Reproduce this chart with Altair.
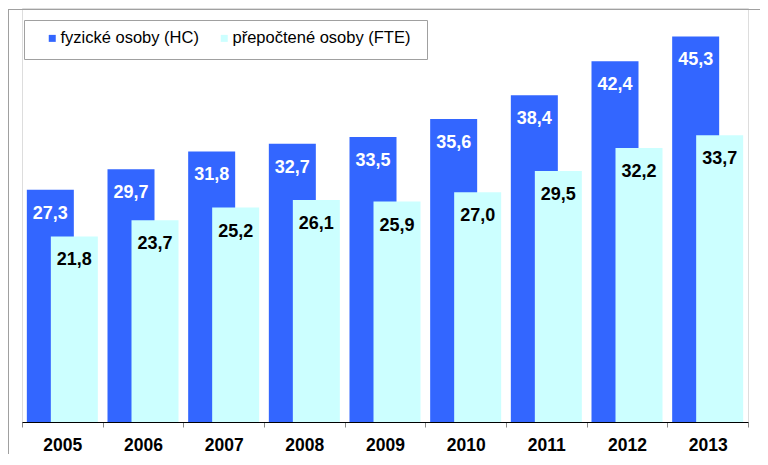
import altair as alt
import pandas as pd

years = ["2005", "2006", "2007", "2008", "2009", "2010", "2011", "2012", "2013"]
hc = [27.3, 29.7, 31.8, 32.7, 33.5, 35.6, 38.4, 42.4, 45.3]
fte = [21.8, 23.7, 25.2, 26.1, 25.9, 27.0, 29.5, 32.2, 33.7]
series = ["fyzické osoby (HC)", "přepočtené osoby (FTE)"]
colors = ["#3366FF", "#CCFFFF"]

rows = []
for y, a, b in zip(years, hc, fte):
    rows.append({"year": y, "series": series[0], "value": a, "label": f"{a:.1f}".replace(".", ",")})
    rows.append({"year": y, "series": series[1], "value": b, "label": f"{b:.1f}".replace(".", ",")})
df = pd.DataFrame(rows)

FONT = "Liberation Sans"
W, H = 726, 414
YMAX = H / 8.51

x = alt.X("year:N", title=None, sort=years,
          scale=alt.Scale(paddingInner=0, paddingOuter=0),
          axis=alt.Axis(labelAngle=0, labelFontSize=17.5, labelFontWeight="bold",
                        labelColor="black", labelFont=FONT, tickBand="extent",
                        tickSize=5, tickColor="#888888", domainColor="black",
                        labelBaseline="alphabetic", labelPadding=23))
y = alt.Y("value:Q", title=None, axis=None,
          scale=alt.Scale(domain=[0, YMAX], nice=False, zero=True))
color = alt.Color("series:N", scale=alt.Scale(domain=series, range=colors),
                  legend=alt.Legend(orient="none", legendX=22, legendY=22,
                                    direction="horizontal", title=None,
                                    symbolType="square", symbolSize=49,
                                    symbolStrokeWidth=0, labelFontSize=16.5,
                                    labelFont=FONT, labelColor="black",
                                    labelOffset=0, columnPadding=17,
                                    padding=0, labelLimit=400))

base = alt.Chart(df)

hc_bar = base.transform_filter(alt.datum.series == series[0]).mark_bar(
    width=47, xOffset=-12).encode(x=x, y=y, color=color)
fte_bar = base.transform_filter(alt.datum.series == series[1]).mark_bar(
    width=47, xOffset=12).encode(x=x, y=y, color=color)

hc_txt = base.transform_filter(alt.datum.series == series[0]).mark_text(
    font=FONT, fontSize=18, fontWeight="bold", color="white",
    baseline="alphabetic", dy=29, dx=-12).encode(x=x, y=y, text="label:N")
fte_txt = base.transform_filter(alt.datum.series == series[1]).mark_text(
    font=FONT, fontSize=18, fontWeight="bold", color="black",
    baseline="alphabetic", dy=29, dx=12).encode(x=x, y=y, text="label:N")

one = alt.Data(values=[{"a": 1}])
frame_left = alt.Chart(one).mark_rule(color="#a0a0a0", strokeWidth=1).encode(
    x=alt.value(-13.5), y=alt.value(1), y2=alt.value(500))
frame_top = alt.Chart(one).mark_rule(color="#a0a0a0", strokeWidth=1).encode(
    x=alt.value(-14), x2=alt.value(800), y=alt.value(1.5))
legend_box = alt.Chart(one).mark_rect(fill="white", stroke="#a0a0a0", strokeWidth=1).encode(
    x=alt.value(2.5), x2=alt.value(405.5), y=alt.value(12.5), y2=alt.value(51.5))

chart = alt.layer(frame_left, frame_top, legend_box, hc_bar, fte_bar, hc_txt, fte_txt).properties(
    width=W, height=H,
    autosize=alt.AutoSizeParams(type="none"),
    padding={"left": 14, "top": 0, "right": 12, "bottom": 32},
).configure_view(strokeWidth=0).configure(background="white")

chart.save("out.html", embed_options={"renderer": "svg", "actions": False})
